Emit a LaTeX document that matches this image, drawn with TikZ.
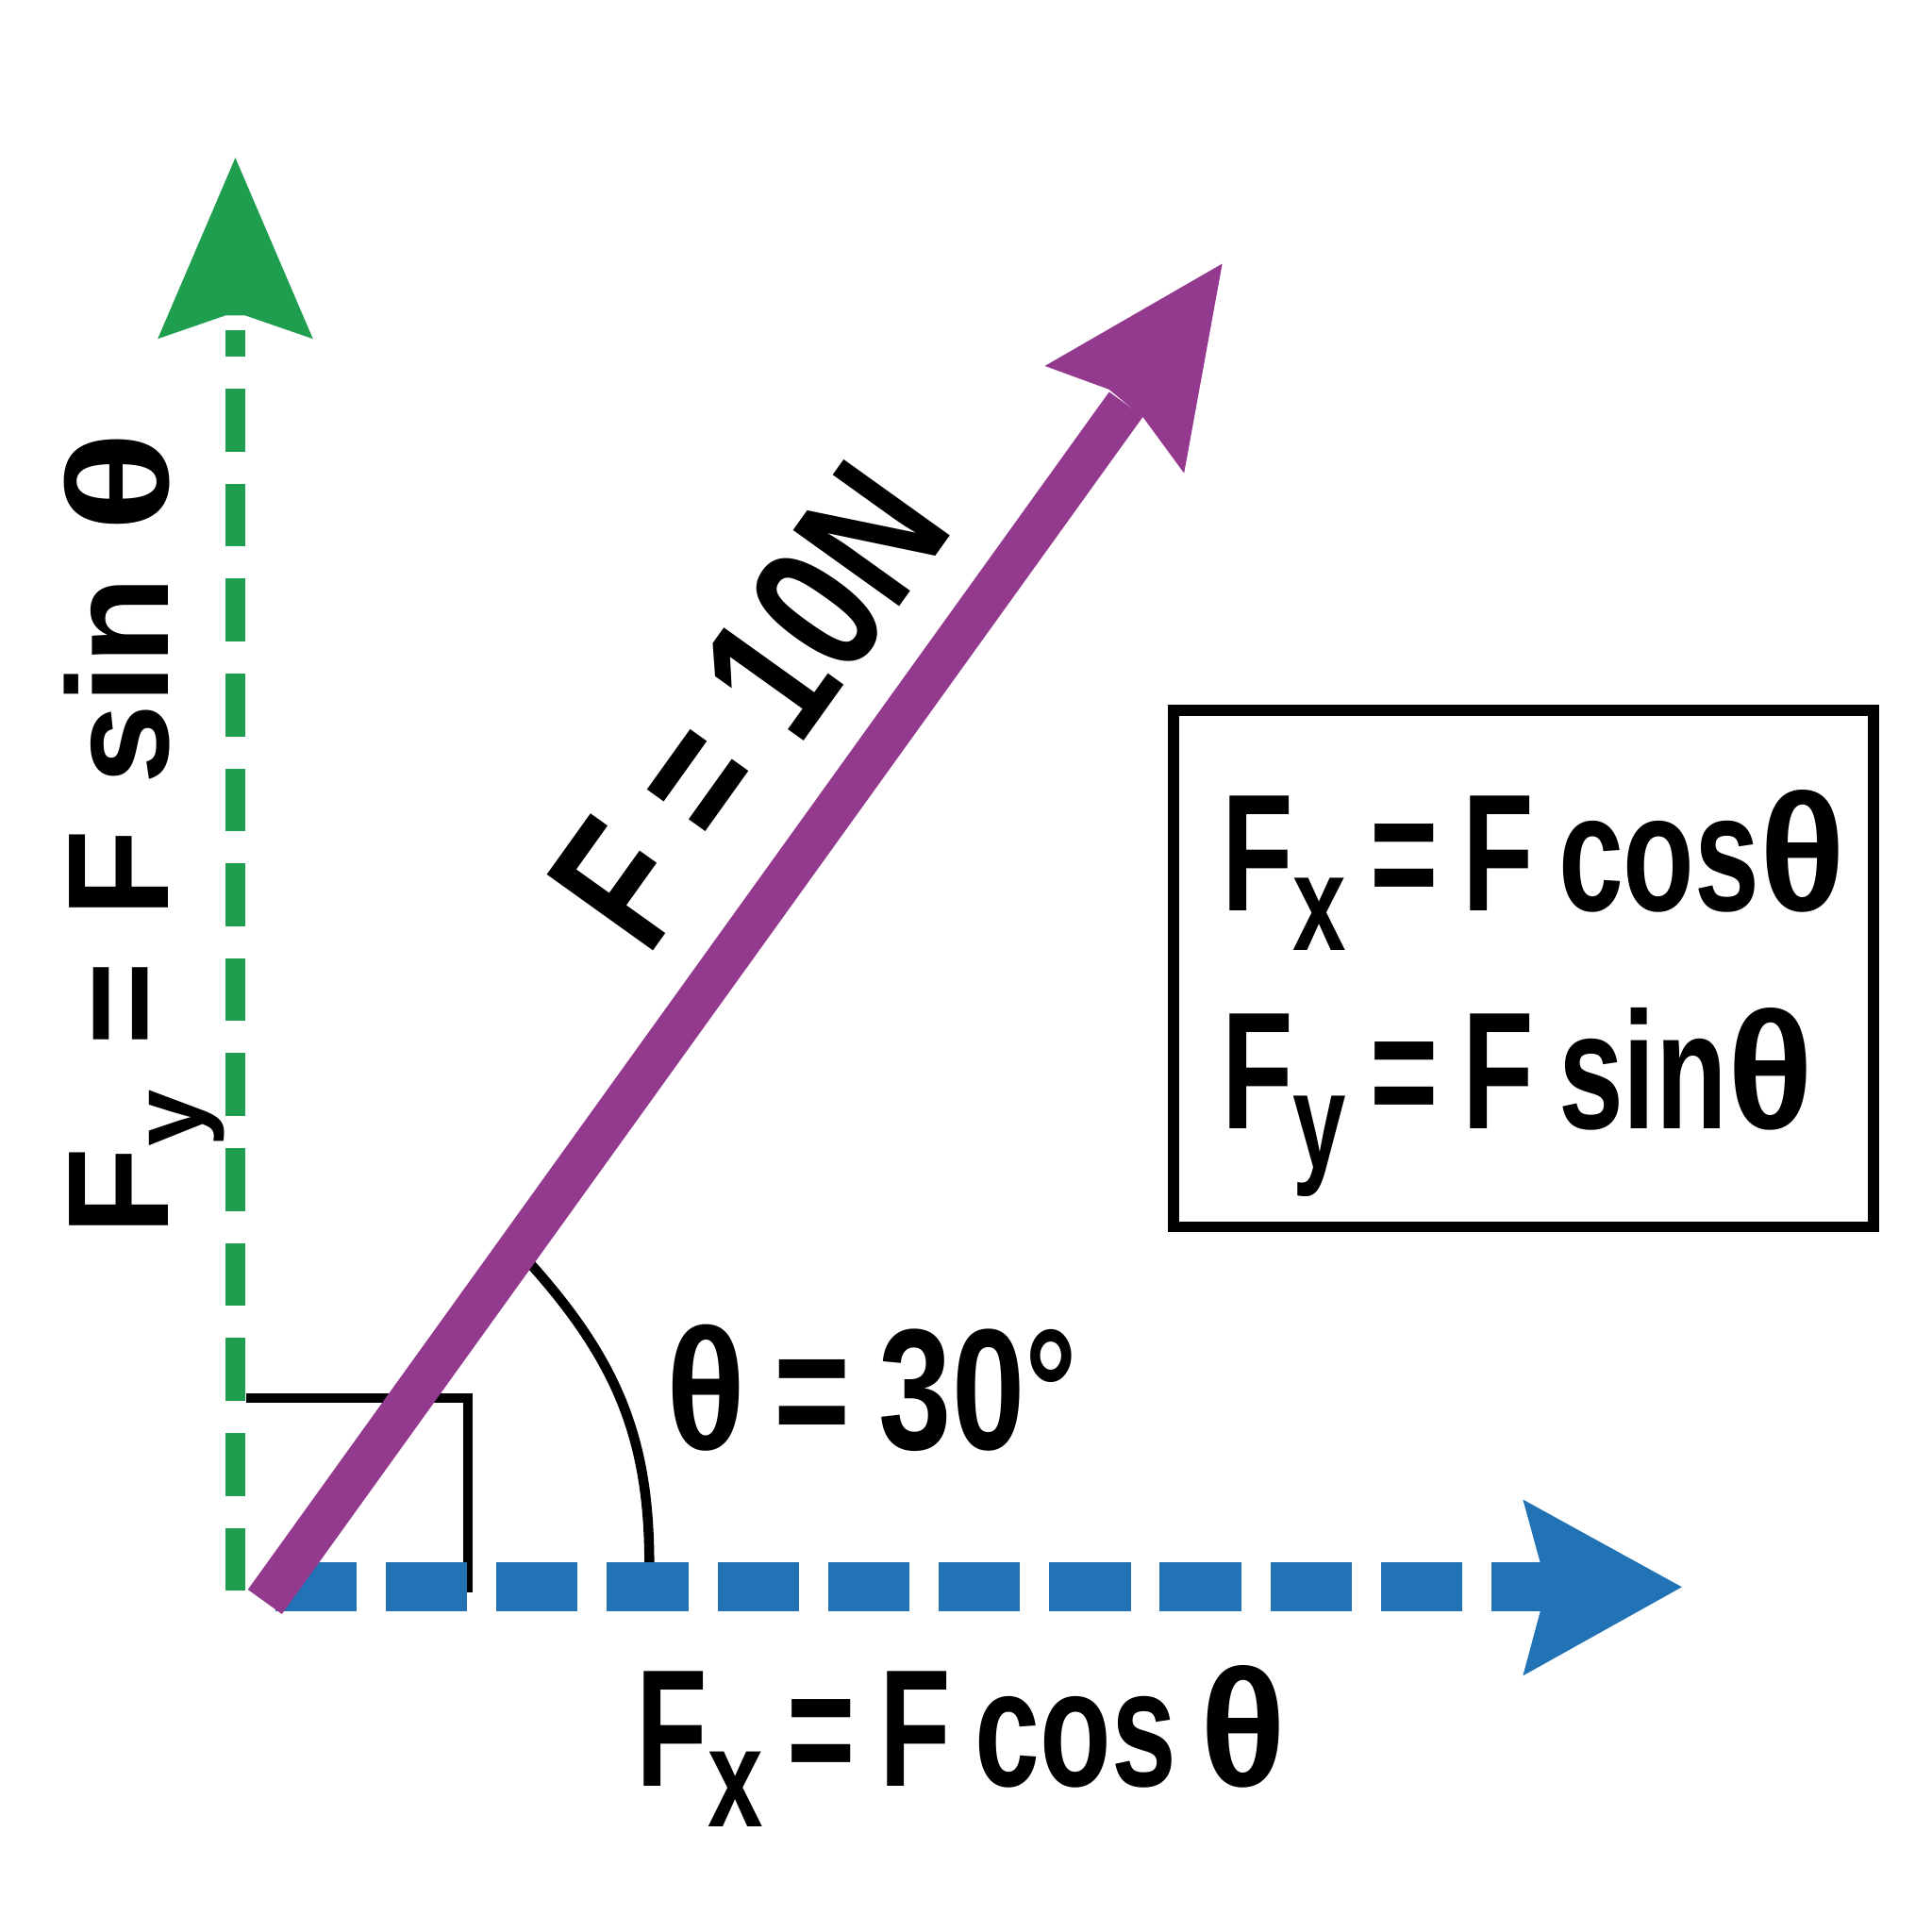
\documentclass[tikz,border=0pt]{standalone}
\usepackage{fontspec}
\usepackage{graphicx}
\setmainfont{Liberation Sans}
\newfontfamily\condfont{Liberation Sans}[FakeStretch=0.70]
\newfontfamily\anglefont{Liberation Sans}[FakeStretch=0.76]
\newfontfamily\semifont{Liberation Sans}[FakeStretch=0.78]
\usetikzlibrary{positioning,calc}

\definecolor{fygreen}{RGB}{32,158,80}
\definecolor{fxblue}{RGB}{34,115,182}
\definecolor{fpurple}{RGB}{147,57,142}

% lowered subscript, scaled
\newcommand{\lowsub}[2][.82]{\raisebox{-.24em}{\scalebox{#1}{#2}}}
% widened theta
\newcommand{\wtheta}[1][1.36]{\scalebox{#1}[1]{θ}}
\newcommand{\setgap}[1]{\spaceskip=#1em\relax}

\begin{document}
\begin{tikzpicture}[x=0.01cm,y=-0.01cm,
				eqn/.style={inner sep=0pt,font=\condfont\bfseries\fontsize{38.5pt}{46pt}\selectfont,
					execute at begin node=\setgap{.145}},
				anglelbl/.style={inner sep=0pt,font=\anglefont\bfseries\fontsize{39.8pt}{48pt}\selectfont,
					execute at begin node=\setgap{.165}},
				forcelbl/.style={inner sep=0pt,font=\semifont\bfseries\fontsize{43.8pt}{52pt}\selectfont},
				sidelbl/.style={inner sep=0pt,font=\bfseries\fontsize{33.2pt}{40pt}\selectfont,
					execute at begin node=\setgap{.31}},
				marker/.style={line width=0.075cm}
			]
			\useasboundingbox (0,0) rectangle (1568,1568);

			\coordinate (O) at (215,1300);
			\coordinate (ytop) at (191,268);
			\coordinate (ybot) at (191,1291);
			\coordinate (xleft) at (223.3,1288);
			\coordinate (xright) at (1252,1288);
			\coordinate (ftip) at (992,214);
			\coordinate (fneck) at (914,328);

			% y component
			\draw[fygreen,line width=0.16cm,dash pattern=on 0.51cm off 0.26cm] (ybot) -- (ytop);
			\fill[fygreen] (191,128) -- (254,275) -- (199,256) -- (183,256) -- (128,275) -- cycle;

			% right angle and angle arc
			\draw[marker] (200,1134.5) -| (380,1292);
			\draw[line width=0.08cm] (429,1024) .. controls (502,1105) and (527,1169) .. (527,1270);

			% x component
			\draw[fxblue,line width=0.40cm,dash pattern=on 0.66cm off 0.237cm] (xleft) -- (xright);
			\fill[fxblue] (1365,1288) -- (1236,1217) -- (1250,1268) -- (1250,1308) -- (1236,1360) -- cycle;

			% force
			\draw[fpurple,line width=0.34cm] (O) -- (fneck);
			\fill[fpurple] (ftip) -- (848,297) -- (900,316) -- (928,339) -- (961,384) -- cycle;

			% labels
			\node[forcelbl,rotate=54.4,anchor=base] (flbl) at (651,603) {F = 10N};
			\node[anglelbl,anchor=base west] (thlbl) at (540,1176) {\wtheta[1.12] = 30°};
			\node[sidelbl,rotate=90,anchor=base] (fylbl) at (137,676) {F\lowsub[.71]{y} = F sin \wtheta[1.3]};
			\node[eqn,anchor=base west] (fxlbl) at (516,1450) {F\lowsub[.85]{x} = F cos \wtheta};

			% summary box
			\node[draw,line width=0.09cm,inner sep=0pt,minimum width=5.68cm,minimum height=4.19cm] (box) at (1236.5,786) {};
			\node[eqn,anchor=base west] (boxfx) at (991,739) {F\lowsub{x} = F cos\wtheta};
			\node[eqn,anchor=base west] (boxfy) at (991,916) {F\lowsub{y} = F sin\wtheta};
		\end{tikzpicture}
\end{document}
